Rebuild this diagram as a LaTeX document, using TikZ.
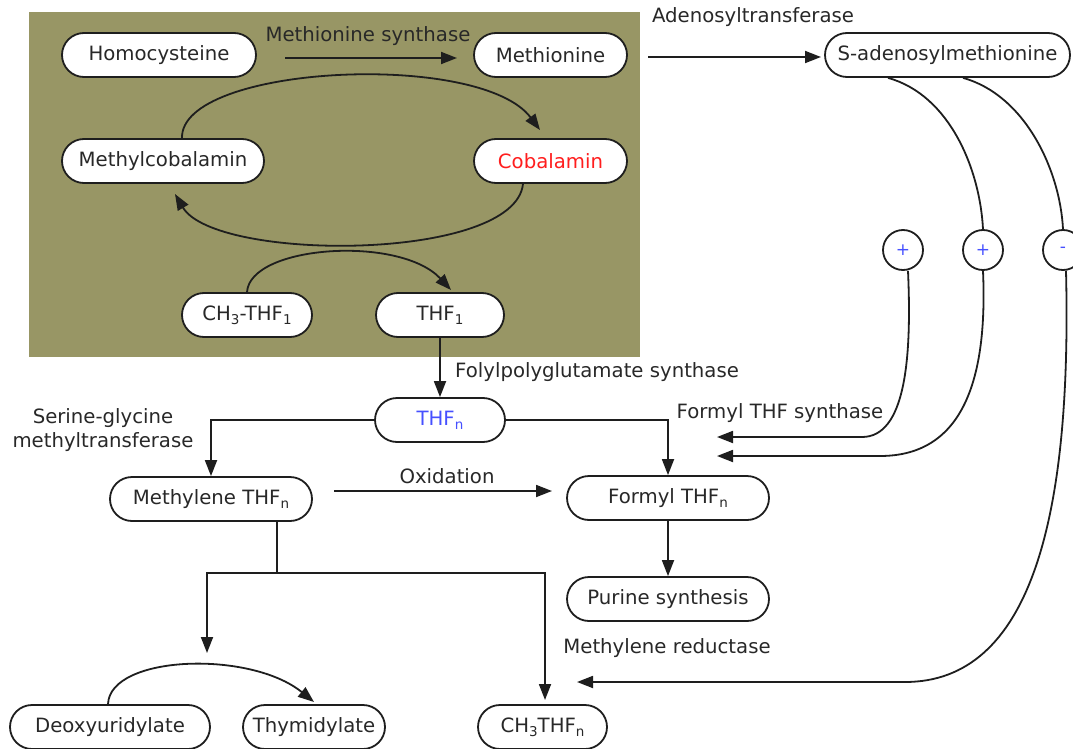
\documentclass[tikz,border=0pt]{standalone}
\usepackage{fontspec}
\setmainfont{DejaVu Sans}
\usetikzlibrary{arrows.meta}
\definecolor{bgolive}{RGB}{152,150,101}
\definecolor{ink}{RGB}{30,30,30}
\definecolor{txt}{RGB}{40,40,40}
\definecolor{bluet}{RGB}{70,80,255}
\definecolor{redt}{RGB}{255,30,30}
\newcommand{\lo}[1]{\raisebox{-0.4ex}{\fontsize{13.5}{13.5}\selectfont #1}}
\begin{document}
\begin{tikzpicture}[x=1pt,y=-1pt, font=\fontsize{19.7}{23.5}\selectfont,
  box/.style={draw=ink, line width=1.8pt, fill=white, rounded corners=22pt, minimum height=44pt, inner sep=0pt, text=txt},
  conn/.style={draw=ink, line width=1.8pt},
  arr/.style={conn, -{Triangle[length=16pt,width=12pt]}},
  lbl/.style={text=txt, inner sep=0pt},
  sign/.style={circle, draw=ink, line width=1.8pt, minimum size=40pt, inner sep=0pt, text=bluet, font=\fontsize{17}{17}\selectfont, fill=white}]
\useasboundingbox (0,0) rectangle (1073,749);
\clip (0,0) rectangle (1073,749);
\fill[bgolive] (29,12) rectangle (640,357);

% nodes
\node[box, minimum width=194pt] (homo) at (159,55) {Homocysteine};
\node[box, minimum width=153pt] (met) at (550.5,55) {Methionine};
\node[box, minimum width=202pt] (mcbl) at (163,161) {Methylcobalamin};
\node[box, minimum width=153pt, text=redt] (cbl) at (550.5,161) {Cobalamin};
\node[box, minimum width=130pt] (ch3thf) at (247,315) {CH\lo{3}-THF\lo{1}};
\node[box, minimum width=128pt] (thf1) at (440,315) {THF\lo{1}};
\node[box, minimum width=245pt] (sam) at (947.5,55) {S-adenosylmethionine};
\node[box, minimum width=130pt, text=bluet] (thfn) at (440,420) {THF\lo{n}};
\node[box, minimum width=202pt] (mthf) at (211,499) {Methylene THF\lo{n}};
\node[box, minimum width=202pt] (formyl) at (668,498) {Formyl THF\lo{n}};
\node[box, minimum width=202pt] (purine) at (668,599) {Purine synthesis};
\node[box, minimum width=200pt] (deoxy) at (110,727) {Deoxyuridylate};
\node[box, minimum width=142pt] (thym) at (314,727) {Thymidylate};
\node[box, minimum width=129pt] (ch3thfn) at (542.5,727) {CH\lo{3}THF\lo{n}};

\node[sign] (s1) at (903,250) {+};
\node[sign] (s2) at (983,250) {+};
\node[sign] (s3) at (1063,250) {-};

% labels
\node[lbl] (lms) at (368,36) {Methionine synthase};
\node[lbl] (lat) at (753,17) {Adenosyltransferase};
\node[lbl, anchor=west] (lfs) at (455,372) {Folylpolyglutamate synthase};
\node[lbl, align=center] (lsg) at (103,430) {Serine-glycine\\methyltransferase};
\node[lbl] (lfts) at (780,413) {Formyl THF synthase};
\node[lbl] (lox) at (447,476) {Oxidation};
\node[lbl] (lmr) at (667,648) {Methylene reductase};

% coordinates
\coordinate (ms1) at (285,58);
\coordinate (ms2) at (457,58);
\coordinate (at1) at (648,57);
\coordinate (at2) at (821,57);
\coordinate (ox1) at (334,491);
\coordinate (ox2) at (552,491);
\coordinate (brk) at (277,573);
\coordinate (dl) at (207,653);
\coordinate (dr) at (545,700);
\coordinate (f1) at (717,437);
\coordinate (f2) at (717,456);
\coordinate (f3) at (577,682);

% straight arrows
\draw[arr] (ms1) -- (ms2);
\draw[arr] (at1) -- (at2);
\draw[arr] (ox1) -- (ox2);
\draw[arr] (thf1.south) -- (thfn.north);
\draw[arr] (thfn.west) -| (mthf.north);
\draw[arr] (thfn.east) -| (formyl.north);
\draw[arr] (formyl.south) -- (purine.north);
\draw[conn] (mthf.south -| brk) -- (brk);
\draw[arr] (brk) -| (dl);
\draw[arr] (brk) -| (dr);

% cycles
\draw[arr] (mcbl.north -| 182,0) .. controls (180,65) and (480,50) .. (540,130);
\draw[arr] (cbl.south -| 523,0) .. controls (515,262) and (215,262) .. (175,194);
\draw[arr] (ch3thf.north) .. controls (250,245) and (400,235) .. (451,290);
\draw[arr] (deoxy.north -| 108,0) .. controls (110,655) and (250,650) .. (314,702);

% SAM effects
\draw[conn] (sam.south -| 888,0) .. controls (950,95) and (980,170) .. (s2.north);
\draw[conn] (sam.south -| 963,0) .. controls (1025,95) and (1060,170) .. (s3.north);
\draw[arr] (s1.south -| 908,0) .. controls (912,360) and (905,437) .. (862,437) -- (f1);
\draw[arr] (s2.south) .. controls (988,385) and (960,456) .. (880,456) -- (f2);
\draw[arr] (s3.south -| 1066,0) .. controls (1072,520) and (1030,682) .. (905,682) -- (f3);
\end{tikzpicture}
\end{document}
